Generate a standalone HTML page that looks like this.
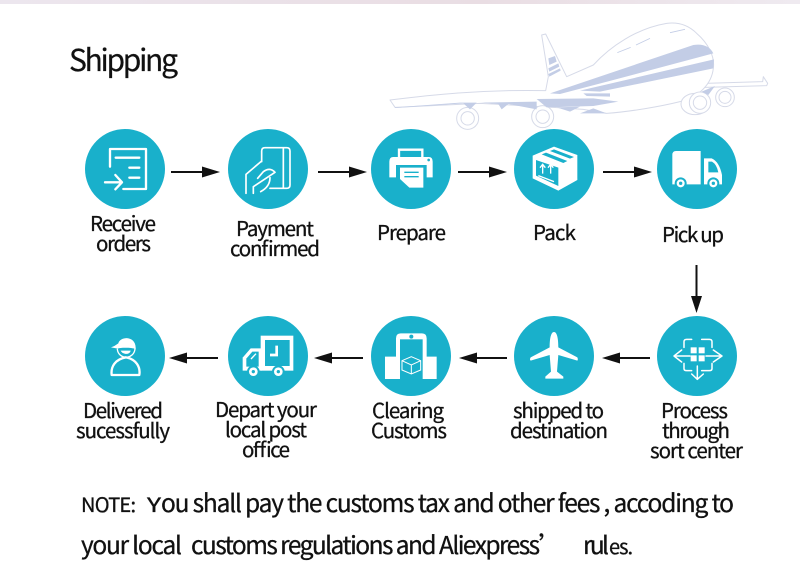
<!DOCTYPE html>
<html lang="en"><head><meta charset="utf-8"><title>Shipping</title>
<style>
html,body{margin:0;padding:0;background:#fff;width:800px;height:580px;overflow:hidden}
svg{display:block}
text{font-family:"Noto Sans CJK SC","Liberation Sans",sans-serif;fill:#111;font-size:20.5px;stroke:#111;stroke-width:.3px}
.i{fill:none;stroke:#fff;stroke-width:7;stroke-linecap:round;stroke-linejoin:round}
.f{fill:#fff;stroke:none}
.t{fill:#19b0cb;stroke:none}
.ts{fill:none;stroke:#19b0cb;stroke-width:4}
</style></head><body>
<svg width="800" height="580" viewBox="0 0 800 580" xmlns="http://www.w3.org/2000/svg">
<defs><linearGradient id="g" x1="0" x2="1" y1="0" y2="0"><stop offset="0" stop-color="#ece6ee"/><stop offset=".6" stop-color="#e9dde3"/><stop offset="1" stop-color="#efeaf0"/></linearGradient></defs>
<rect width="800" height="580" fill="#fff"/>
<rect width="800" height="4" fill="url(#g)"/>

<!-- plane -->
<g transform="translate(380,0) scale(.33333)">
<g fill="#fff" stroke="#d6dae8" stroke-width="3" stroke-linejoin="round">
<path d="M975 250L1148 245L1150 230L1163 250L1160 257L975 262Z"/>
<path d="M497 272L505 230L485 105L497 102L560 230L640 195C690 140 770 85 860 70C900 65 930 80 950 100C985 130 1005 170 1000 205C995 250 960 290 900 305C840 320 750 335 680 340L610 328L520 322L300 310L45 322L30 300C150 285 300 268 497 272Z"/>
<circle cx="263" cy="355" r="33"/><circle cx="263" cy="355" r="20"/>
<circle cx="488" cy="350" r="33"/><circle cx="488" cy="350" r="20"/>
<circle cx="1035" cy="292" r="28"/><circle cx="1035" cy="292" r="18"/>
<ellipse cx="945" cy="312" rx="42" ry="32"/>
<circle cx="960" cy="308" r="32"/><circle cx="960" cy="308" r="20"/>
</g>
<g fill="#c3cde6">
<path d="M510 280L940 135C970 130 990 140 1000 160L700 240L540 282Z"/>
<path d="M600 272L1002 178L1000 205L660 275Z"/>
<path d="M470 297L640 295L715 305L640 318L500 322Z"/>
<path d="M45 322L240 308L290 308L270 328L250 310L45 324Z"/>
<path d="M300 308L470 305L470 328L385 312L365 328L355 312Z"/>
<path d="M530 322L600 320L570 335Z"/><path d="M600 340L640 325L680 340Z"/>
<path d="M610 280L690 280L690 290L620 288Z"/>
<path d="M965 275L1005 258L985 285Z"/>
<path d="M505 175L525 168L530 185L508 195Z"/><path d="M505 205L535 190L538 200L508 215Z"/><path d="M505 222L540 205L542 212L508 230Z"/>
</g>
<g stroke="#c3cde6" stroke-width="2.5" fill="none"><path d="M712 158L752 142M768 135L810 115M870 98L915 88"/></g>
</g>

<text x="69" y="71" style="font-size:30px;stroke-width:.2px" textLength="109">Shipping</text>

<!-- circles -->
<g fill="#19b0cb">
<circle cx="125" cy="169" r="40"/><circle cx="268" cy="169" r="40"/><circle cx="411" cy="169" r="40"/><circle cx="554" cy="169" r="40"/><circle cx="697" cy="169" r="40"/>
<circle cx="125" cy="356" r="40"/><circle cx="268" cy="356" r="40"/><circle cx="411" cy="356" r="40"/><circle cx="554" cy="356" r="40"/><circle cx="697" cy="356" r="40"/>
</g>

<!-- arrows -->
<g stroke="#111" stroke-width="2" fill="#111">
<path d="M171 172H205"/><path d="M318 172H352"/><path d="M458 172H492"/><path d="M603 172H637"/>
<path d="M184 358H218"/><path d="M329 358H363"/><path d="M473 358H507"/><path d="M616 358H650"/>
<path d="M696.500 265V300"/>
</g>
<g fill="#111" stroke="none">
<path d="M202 166.500L220 172L202 177.500Z"/><path d="M349 166.500L367 172L349 177.500Z"/><path d="M489 166.500L507 172L489 177.500Z"/><path d="M634 166.500L652 172L634 177.500Z"/>
<path d="M187 352.500L169 358L187 363.500Z"/><path d="M332 352.500L314 358L332 363.500Z"/><path d="M477 352.500L459 358L477 363.500Z"/><path d="M620 352.500L602 358L620 363.500Z"/>
<path d="M691 296H702L696.500 313Z"/>
</g>

<!-- receive orders icon -->
<g transform="translate(70,125) scale(.33333)">
<g class="i">
<path d="M120 125V72H228V192H160"/><path d="M137 98H208M178 128H208M178 158H208"/>
<path d="M105 172H152M136 150L156 172L136 193"/>
</g>
</g>

<!-- payment icon -->
<g transform="translate(220,125) scale(.33333)">
<g class="i" style="stroke-width:5">
<path d="M125 110V78Q125 68 135 68H200Q210 68 210 78V180Q210 190 200 190H150"/>
<path d="M190 70V188"/>
<path d="M78 205V148L125 108"/>
<path d="M100 205V185L165 142Q150 125 130 140L113 160"/>
<path d="M122 200Q150 185 150 158"/>
</g>
</g>

<!-- printer icon -->
<g transform="translate(360,125) scale(.33333)">
<path d="M117 97V74H187V97" fill="none" stroke="#fff" stroke-width="7"/>
<path class="f" d="M100 96H206Q218 96 218 110V157H200V120H108V157H88V110Q88 96 100 96Z"/>
<circle class="t" cx="206" cy="105" r="4"/>
<path class="f" d="M120 128H190V188H148L120 162Z"/>
<path class="ts" d="M133 142H176M133 155H176"/>
</g>

<!-- box and truck -->
<g transform="translate(430,125) scale(.33333)">
<path class="f" d="M308 92L372 65L442 90V165L385 197L308 160Z"/>
<path class="t" d="M318 105L385 128V183L318 152Z"/>
<path class="t" d="M335 88L348 83L412 108L400 114ZM360 78L372 73L432 96L420 101Z"/>
<path d="M338 146V120M330 128L338 118L346 128M362 146V120M354 128L362 118L370 128" fill="none" stroke="#fff" stroke-width="4"/>
<path d="M325 152L372 170" stroke="#fff" stroke-width="4"/>
<path class="f" d="M738 78H812V178H727V90Q727 78 738 78Z"/>
<path class="f" d="M822 100H845Q868 110 876 150V178H822Z"/>
<path class="t" d="M835 110H846Q860 118 865 142H835Z"/>
<circle cx="752" cy="175" r="18" class="t"/><circle cx="752" cy="175" r="12" class="f"/><circle cx="752" cy="175" r="5" class="t"/>
<circle cx="850" cy="175" r="18" class="t"/><circle cx="850" cy="175" r="12" class="f"/><circle cx="850" cy="175" r="5" class="t"/>
</g>

<!-- delivered and clearing -->
<g transform="translate(70,310) scale(.33333)">
<path class="i" d="M168 142C135 148 122 170 125 195H208C212 170 198 148 168 142Z"/>
<path class="f" d="M133 108L145 100C150 80 195 75 197 112V118C190 112 150 112 143 116L123 112Z"/>
<path class="i" d="M142 118C146 150 192 150 195 116" style="stroke-width:4"/>
<path class="f" d="M152 122H182C180 135 158 135 152 122Z"/>
<path class="f" d="M978 85Q978 70 992 70H1056Q1070 70 1070 85V140H1100V207H1045V175H1000V207H945V140H978Z"/>
<rect class="t" x="990" y="88" width="68" height="120"/>
<circle class="t" cx="1024" cy="80" r="6"/>
<path d="M1024 140L1052 152V180L1024 192L996 180V152ZM996 152L1024 165L1052 152M1024 165V192" fill="none" stroke="#fff" stroke-width="3"/>
</g>

<!-- depart truck -->
<g transform="translate(220,315) scale(.33333)">
<rect class="f" x="122" y="62" width="98" height="105"/>
<rect class="t" x="135" y="75" width="74" height="78"/>
<path d="M170 92V120H150" fill="none" stroke="#fff" stroke-width="8"/>
<path class="f" d="M125 100H92L68 128V167H125Z"/>
<path class="t" d="M116 110H97L79 131V155H116Z"/>
<path d="M93 132L108 116" stroke="#fff" stroke-width="4"/>
<circle class="t" cx="100" cy="170" r="19"/><circle class="f" cx="100" cy="170" r="13"/><circle class="t" cx="100" cy="170" r="5"/>
<circle class="t" cx="175" cy="170" r="19"/><circle class="f" cx="175" cy="170" r="13"/><circle class="t" cx="175" cy="170" r="5"/>
</g>

<!-- plane and sort icons -->
<g transform="translate(430,260) scale(.33333)">
<path class="f" d="M372 216C381 216 385 235 385 262L442 292Q445 298 442 302L385 285L381 335L400 350V356H346V350L363 335L359 285L302 302Q298 298 302 292L359 262C359 235 363 216 372 216Z"/>
<g class="i" style="stroke-width:4.500">
<path d="M762 262V245Q762 238 770 238H785M815 238H838Q846 238 846 245V262M762 310V326Q762 332 770 332H785M815 332H838Q846 332 846 326V310"/>
<path d="M755 270L732 288L755 306M850 270L876 288L850 306M732 288H780M828 288H876M802 318V358M785 342L802 358L820 342"/>
</g>
<g class="f"><rect x="782" y="262" width="18" height="18"/><rect x="806" y="262" width="18" height="18"/><rect x="782" y="286" width="18" height="18"/><rect x="806" y="286" width="18" height="18"/></g>
</g>

<!-- labels -->
<text x="90" y="231" textLength="66">Receive</text>
<text x="96" y="251" textLength="55">orders</text>
<text x="236" y="236" textLength="78">Payment</text>
<text x="230" y="256" textLength="90">confirmed</text>
<text x="377" y="240" textLength="69">Prepare</text>
<text x="533" y="240" textLength="43">Pack</text>
<text x="662" y="242" textLength="62">Pick up</text>
<text x="83" y="418" textLength="80">Delivered</text>
<text x="76" y="438" textLength="94">sucessfully</text>
<text x="215" y="417" textLength="102">Depart your</text>
<text x="225" y="437" textLength="82">local post</text>
<text x="242" y="457" textLength="48">office</text>
<text x="372" y="418" textLength="72">Clearing</text>
<text x="371" y="438" textLength="76">Customs</text>
<text x="513" y="418" textLength="91">shipped to</text>
<text x="510" y="438" textLength="98">destination</text>
<text x="661" y="418" textLength="67">Process</text>
<text x="662" y="438" textLength="68">through</text>
<text x="650" y="458" textLength="93">sort center</text>

<text x="81" y="512" style="font-size:20px" textLength="55">NOTE:</text>
<text x="147" y="512" style="font-size:20px" textLength="14" lengthAdjust="spacingAndGlyphs">Y</text>
<text x="161" y="512" style="font-size:24.5px" textLength="573">ou shall pay the customs tax and other fees , accoding to</text>
<text x="81" y="554" style="font-size:24.5px" textLength="101">your local</text>
<text x="191" y="554" style="font-size:24.5px" textLength="372">customs regulations and Aliexpress’</text>
<text x="583" y="554" style="font-size:24.5px" textLength="26">rul</text>
<text x="609" y="554" style="font-size:20px" textLength="24">es.</text>
</svg>
</body></html>
